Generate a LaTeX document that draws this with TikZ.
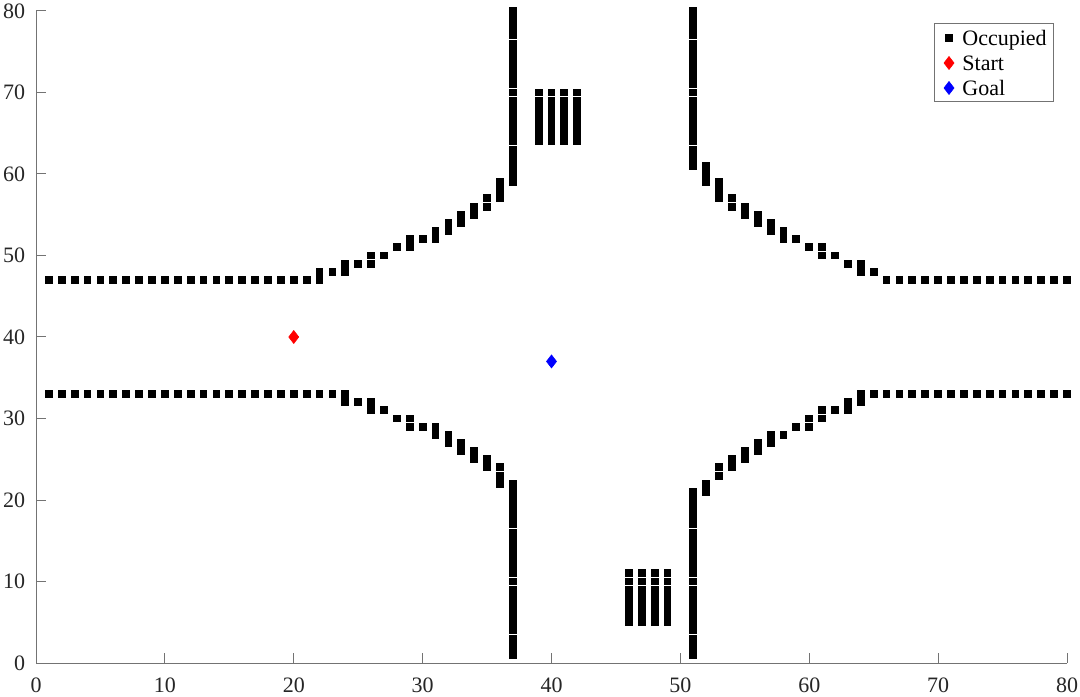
\documentclass[tikz,border=0pt]{standalone}
\usepackage{fontspec}
\setmainfont{Liberation Serif}
\begin{document}
\begin{tikzpicture}[x=0.5pt,y=0.5pt,
  axisline/.style={draw=black!55,line width=0.5pt},
  ticklab/.style={font=\fontsize{11}{13}\selectfont,text=black!85,inner sep=0pt},
  legtext/.style={font=\fontsize{11}{13}\selectfont,text=black,inner sep=0pt,anchor=base west},
  occ/.style={fill=black},
  startmk/.style={fill=red,draw=red,line width=0.3pt},
  goalmk/.style={fill=blue,draw=blue,line width=0.3pt}]
\useasboundingbox (0,0) rectangle (1080,696);
\fill[white] (0,0) rectangle (1080,696);
\newcommand\occcell[2]{\fill[occ] (#1,#2) ++(-1.95pt,-1.98pt) rectangle ++(3.9pt,3.96pt);}
\newcommand\diamondmk[2]{\path[#1] (#2) ++(0,3.25pt) -- ++(2.5pt,-3.25pt) -- ++(-2.5pt,-3.25pt) -- ++(-2.5pt,3.25pt) -- cycle;}
\begin{scope}[shift={(36,33)},x=6.44375pt,y=4.075pt]
  % axes
  \coordinate (o) at (0,0);
  \coordinate (xe) at (80,0);
  \coordinate (ye) at (0,80);
  \draw[axisline] (ye) -- (o) -- (xe);
  \foreach \t in {0,10,...,80}{
    \draw[axisline] (\t,0) -- ++(0,5pt);
    \node[ticklab,anchor=base] (xl\t) at ([yshift=-14.8pt]\t,0) {\t};
    \draw[axisline] (0,\t) -- ++(5pt,0);
    \node[ticklab,anchor=east] (yl\t) at ([xshift=-5.25pt]0,\t) {\t};
  }
  % straight walls
  \foreach \x in {1,...,22} {\occcell{\x}{47}}
  \foreach \x in {66,...,80} {\occcell{\x}{47}}
  \foreach \x in {1,...,24} {\occcell{\x}{33}}
  \foreach \x in {65,...,80} {\occcell{\x}{33}}
  \foreach \y in {59,...,80} {\occcell{37}{\y}}
  \foreach \y in {1,...,22} {\occcell{37}{\y}}
  \foreach \y in {61,...,80} {\occcell{51}{\y}}
  \foreach \y in {1,...,21} {\occcell{51}{\y}}
  % curved corners
  \foreach \x/\ys in {22/{48},23/{48},24/{48,49},25/{49},26/{49,50},27/{50},28/{51},29/{51,52},30/{52},31/{52,53},32/{53,54},33/{54,55},34/{55,56},35/{56,57},36/{57,58,59},
                      52/{59,60,61},53/{57,58,59},54/{56,57},55/{55,56},56/{54,55},57/{53,54},58/{52,53},59/{52},60/{51},61/{50,51},62/{50},63/{49},64/{48,49},65/{48},
                      24/{32},25/{32},26/{31,32},27/{31},28/{30},29/{29,30},30/{29},31/{28,29},32/{27,28},33/{26,27},34/{25,26},35/{24,25},36/{22,23,24},
                      52/{21,22},53/{23,24},54/{24,25},55/{25,26},56/{26,27},57/{27,28},58/{28},59/{29},60/{29,30},61/{30,31},62/{31},63/{31,32},64/{32,33}}
    {\foreach \y in \ys {\occcell{\x}{\y}}}
  % blocks
  \foreach \x in {39,...,42} {\foreach \y in {64,...,70} {\occcell{\x}{\y}}}
  \foreach \x in {46,...,49} {\foreach \y in {5,...,11} {\occcell{\x}{\y}}}
  % start and goal
  \coordinate (start) at (20,40);
  \coordinate (goal) at (40,37);
  \diamondmk{startmk}{start}
  \diamondmk{goalmk}{goal}
\end{scope}
% legend
\draw[axisline,fill=white] (934,594) rectangle (1053,672);
\fill[occ] (949,658) ++(-1.95pt,-1.95pt) rectangle ++(3.9pt,3.9pt);
\coordinate (lstart) at (949,633);
\coordinate (lgoal) at (949,608);
\diamondmk{startmk}{lstart}
\diamondmk{goalmk}{lgoal}
\node[legtext] (locc) at (962,650) {Occupied};
\node[legtext] (lst) at (962,625.3) {Start};
\node[legtext] (lgo) at (962,600) {Goal};
\end{tikzpicture}
\end{document}
